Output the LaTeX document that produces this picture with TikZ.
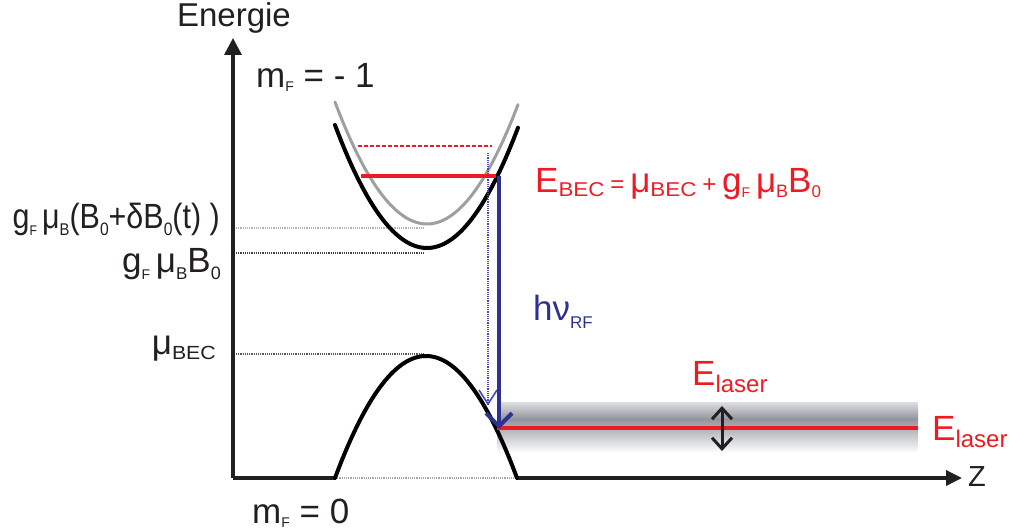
\documentclass[tikz,border=0pt]{standalone}
\usepackage{fontspec}
\usepackage{graphicx}
\setmainfont{Liberation Sans}
\usetikzlibrary{arrows.meta,calc}
\definecolor{tred}{RGB}{237,28,36}
\definecolor{tblue}{RGB}{46,49,146}
\definecolor{tlblue}{RGB}{70,72,185}
\definecolor{tblk}{RGB}{35,31,32}
\definecolor{bandgray}{RGB}{145,149,155}
\definecolor{bandtop}{RGB}{222,224,227}
\newcommand{\sbx}[3]{\raisebox{-#1pt}{\fontsize{#2}{#2}\selectfont #3}}
\newcommand{\sbw}[3]{\raisebox{-#1pt}{\scalebox{1.12}[1]{\fontsize{#2}{#2}\selectfont #3}}}
\newcommand{\mainfs}{\fontsize{35}{38}\selectfont}
\begin{document}
\begin{tikzpicture}[x=1pt,y=-1pt,
  lbl/.style={inner sep=0pt, text=tblk, font=\mainfs},
  axis/.style={line width=3.5pt, draw=tblk},
  curve/.style={line width=4pt, draw=black, line cap=round},
  dotl/.style={line width=1.6pt, dash pattern=on 1.1pt off 1.1pt},
]
\useasboundingbox (0,0) rectangle (1010,532);

% coordinates
\coordinate (O) at (233,478);
\coordinate (ytop) at (233,38);
\coordinate (xl) at (335,478);
\coordinate (xr) at (517,478);
\coordinate (xend) at (962,478);

% gray band
\shade[top color=bandtop, bottom color=bandgray] (497,402) rectangle (918,419);
\shade[top color=bandgray, bottom color=white] (497,419) rectangle (918,453);

% dotted helper lines
\coordinate (d1a) at (236,228); \coordinate (d1b) at (425,228);
\coordinate (d2a) at (236,253); \coordinate (d2b) at (425,253);
\coordinate (d3a) at (236,354); \coordinate (d3b) at (425,354);
\draw[dotl, draw=gray!60] (d1a) -- (d1b);
\draw[dotl, draw=tblk!85] (d2a) -- (d2b);
\draw[dotl, draw=tblk!75] (d3a) -- (d3b);
\draw[dotl, draw=gray!70] (xl) -- (xr);

% axes
\draw[axis, -{Triangle[length=17pt,width=17pt]}] (O) -- (ytop);
\draw[axis] (O) -- (xl);
\draw[axis, -{Triangle[length=16pt,width=15pt]}] (xr) -- (xend);

% parabolas
\draw[line width=3pt, draw=gray!75, line cap=round] plot[domain=335:518, samples=80] (\x, {224-122*((\x-427)/92)^2});
\draw[curve] plot[domain=335:518, samples=80] (\x, {248-123*((\x-427)/92)^2});
\draw[curve] plot[domain=335:517, samples=80] (\x, {356+122*((\x-426)/91)^2});

% red lines
\coordinate (rda) at (358,146); \coordinate (rdb) at (492,146);
\draw[draw=tred, line width=1.6pt, dash pattern=on 4pt off 2pt] (rda) -- (rdb);
\coordinate (rsa) at (361,176); \coordinate (rsb) at (496,176);
\draw[draw=tred, line width=4pt] (rsa) -- (rsb);
\coordinate (la) at (497,428); \coordinate (lb) at (918,428);
\draw[draw=tred, line width=4pt] (la) -- (lb);

% blue arrows
\coordinate (bdt) at (488,153); \coordinate (bdb) at (488,404);
\draw[draw=tlblue, line width=1.8pt, dash pattern=on 1.2pt off 1pt] (bdt) -- (bdb);
\draw[draw=tlblue, line width=1.6pt, line join=miter] ($(bdb)+(-9,-14)$) -- (bdb) -- ($(bdb)+(9,-14)$);
\coordinate (bst) at (499,176); \coordinate (bsb) at (499,429);
\draw[draw=tblue, line width=4pt, -{Straight Barb[length=13pt,width=26pt,line width=4pt]}] (bst) -- (bsb);

% double arrow
\coordinate (da) at (722,406); \coordinate (db) at (722,451);
\draw[draw=tblk, line width=3pt, {Straight Barb[length=11pt,width=20pt,line width=3pt]}-{Straight Barb[length=11pt,width=20pt,line width=3pt]}] (da) -- (db);

% labels
\node[lbl, anchor=base, font=\fontsize{33}{33}\selectfont] (energie) at (234,27) {Energie};
\node[lbl, anchor=base west] (mfm1) at (256,88) {m\sbx{4}{14}{F} = - 1};
\node[lbl, anchor=base west] (mf0) at (252,523) {m\sbx{4}{14}{F} = 0};
\node[lbl, anchor=base east] (gdb) at (220,228) {\scalebox{0.87}[1]{g\sbx{7}{14}{F}\,μ\sbx{7}{17}{B}(B\sbx{7}{18}{0}+δB\sbx{7}{18}{0}(t) )}};
\node[lbl, anchor=base east] (gb) at (221,272) {g\sbx{7}{14}{F}\,μ\sbx{7}{17}{B}B\sbx{7}{18}{0}};
\node[lbl, anchor=base east] (mubec) at (216,354) {μ\sbw{5}{19}{BEC}};
\node[lbl, anchor=base west, text=tred] (ebec) at (535,193) {E\sbw{4}{20}{BEC}\,\sbx{0}{24}{=}\,μ\sbw{4}{20}{BEC}\,\sbx{0}{24}{+}\,g\sbx{5}{14}{F}\,μ\sbx{5}{18}{B}B\sbx{5}{17}{0}};
\node[lbl, anchor=base west, text=tblue] (hnu) at (533,320) {hν\sbx{8}{17}{RF}};
\node[lbl, anchor=base west, text=tred] (el1) at (692,385) {E\sbx{7}{24}{laser}};
\node[lbl, anchor=base west, text=tred] (el2) at (932,440) {E\sbx{7}{24}{laser}};
\node[lbl, anchor=base west, font=\fontsize{29}{29}\selectfont] (zlab) at (968,486) {Z};
\end{tikzpicture}
\end{document}
